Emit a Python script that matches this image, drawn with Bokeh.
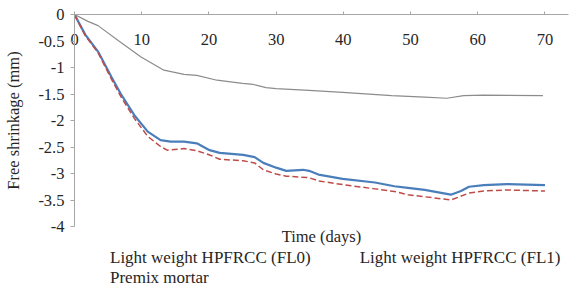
from bokeh.plotting import figure
from bokeh.layouts import column
from bokeh.models import (FixedTicker, Range1d, Legend, LegendItem, LinearAxis)
from bokeh.embed import file_html
from bokeh.resources import INLINE

# ---- data ----
days_fl0 = [0, 1.6, 3.5, 5.5, 6.9, 8.9, 10.9, 12.8, 14.3, 16.3, 18.2, 20.1, 21.6, 25.1, 26.8,
            28.1, 30.0, 31.5, 34.0, 34.9, 36.3, 39.9, 44.7, 47.6, 49.6, 52.1, 56.0, 57.5,
            58.7, 60.9, 64.3, 70.0]
fl0 = [0, -0.38, -0.70, -1.18, -1.50, -1.90, -2.21, -2.37, -2.40, -2.40, -2.43, -2.56, -2.61,
       -2.65, -2.69, -2.80, -2.89, -2.95, -2.93, -2.95, -3.02, -3.10, -3.17, -3.24, -3.27,
       -3.31, -3.40, -3.33, -3.25, -3.22, -3.20, -3.22]

days_fl1 = [0, 1.6, 3.5, 5.5, 6.9, 8.9, 10.9, 12.8, 13.8, 16.3, 18.2, 20.1, 21.6, 25.1, 26.8,
            28.1, 30.0, 31.5, 34.9, 36.3, 39.9, 44.7, 47.6, 49.6, 56.0, 58.7, 60.9, 64.3, 70.0]
fl1 = [0, -0.40, -0.72, -1.22, -1.55, -1.96, -2.30, -2.49, -2.56, -2.53, -2.57, -2.65, -2.73,
       -2.76, -2.80, -2.93, -3.01, -3.05, -3.08, -3.14, -3.21, -3.29, -3.34, -3.40, -3.50,
       -3.37, -3.33, -3.31, -3.33]

days_premix = [0, 2.0, 3.5, 6.5, 9.9, 13.3, 16.3, 18.2, 21.2, 25.0, 26.6, 28.5, 30.0, 34.9,
               39.9, 47.2, 52.1, 55.4, 57.9, 60.9, 69.7]
premix = [0, -0.13, -0.21, -0.49, -0.80, -1.05, -1.13, -1.15, -1.24, -1.30, -1.32, -1.38,
          -1.40, -1.43, -1.47, -1.53, -1.56, -1.58, -1.53, -1.52, -1.53]

x_ticks = [0, 10, 20, 30, 40, 50, 60, 70]
y_ticks = [0, -0.5, -1, -1.5, -2, -2.5, -3, -3.5, -4]
y_tick_labels = ["0", "-0.5", "-1", "-1.5", "-2", "-2.5", "-3", "-3.5", "-4"]

series_names = ["Light weight HPFRCC (FL0)", "Light weight HPFRCC (FL1)", "Premix mortar"]
series_colors = ["#4a7ebb", "#be4b48", "#8c8c8c"]
series_widths = [2.2, 1.5, 1.2]
series_dash = ["solid", "6 3", "solid"]
x_title = "Time (days)"
y_title = "Free shrinkage (mm)"

FONT = "Liberation Serif"
TXT = "#262626"
AXIS = "#a6a6a6"

p = figure(width=570, height=248, output_backend="svg", toolbar_location=None,
           x_range=Range1d(0, 73.5), y_range=Range1d(-4, 0), x_axis_location="above",
           min_border_left=68, min_border_top=14, min_border_right=2, min_border_bottom=0)
p.outline_line_color = None
p.xgrid.visible = False
p.ygrid.visible = False

# x axis along the top (y = 0), its labels pulled down under the line
xa = p.xaxis[0]
xa.ticker = FixedTicker(ticks=x_ticks)
xa.major_tick_in = 0
xa.major_tick_out = 3
xa.minor_tick_line_color = None
xa.axis_line_color = AXIS
xa.major_tick_line_color = AXIS
xa.major_label_text_font = FONT
xa.major_label_text_font_size = "16.5px"
xa.major_label_text_color = TXT
xa.major_label_standoff = -33

ya = p.yaxis[0]
ya.ticker = FixedTicker(ticks=y_ticks)
ya.major_label_overrides = {t: s for t, s in zip(y_ticks, y_tick_labels)}
ya.major_tick_in = 0
ya.major_tick_out = 4
ya.minor_tick_line_color = None
ya.axis_line_color = AXIS
ya.major_tick_line_color = AXIS
ya.major_label_text_font = FONT
ya.major_label_text_font_size = "16.5px"
ya.major_label_text_color = TXT
ya.major_label_standoff = 6
ya.axis_label = y_title
ya.axis_label_text_font = FONT
ya.axis_label_text_font_size = "16.5px"
ya.axis_label_text_font_style = "normal"
ya.axis_label_text_color = TXT
ya.axis_label_standoff = 12

# a bare axis below the frame that only carries the x title
xt = LinearAxis(ticker=FixedTicker(ticks=[]), axis_label=x_title,
                axis_line_color=None, major_tick_in=0, major_tick_out=0,
                minor_tick_in=0, minor_tick_out=0, major_label_standoff=0,
                axis_label_standoff=0, axis_label_text_font=FONT,
                axis_label_text_font_size="16.5px", axis_label_text_font_style="normal",
                axis_label_text_color=TXT)
p.add_layout(xt, "below")

p.line(days_fl0, fl0, line_color=series_colors[0], line_width=series_widths[0],
       line_dash=series_dash[0])
p.line(days_fl1, fl1, line_color=series_colors[1], line_width=series_widths[1],
       line_dash=series_dash[1])
p.line(days_premix, premix, line_color=series_colors[2], line_width=series_widths[2],
       line_dash=series_dash[2])

# legend in its own small strip below the chart
lg = figure(width=570, height=40, output_backend="svg", toolbar_location=None,
            x_range=Range1d(0, 1), y_range=Range1d(0, 1),
            x_axis_location=None, y_axis_location=None,
            min_border_left=74, min_border_right=0, min_border_top=0, min_border_bottom=0)
lg.outline_line_color = None
lg.xgrid.visible = False
lg.ygrid.visible = False
keys = [lg.line([], [], line_color=c, line_width=w, line_dash=d)
        for c, w, d in zip(series_colors, series_widths, series_dash)]

legend_style = dict(orientation="horizontal", margin=0, padding=0,
                    spacing=13, glyph_width=28, glyph_height=17, label_height=17,
                    label_standoff=8, label_text_font=FONT, label_text_font_size="17px",
                    label_text_color=TXT, border_line_color=None, background_fill_alpha=0)
legend1 = Legend(items=[LegendItem(label=series_names[0], renderers=[keys[0]]),
                        LegendItem(label=series_names[1], renderers=[keys[1]])],
                 location="top_left", **legend_style)
legend2 = Legend(items=[LegendItem(label=series_names[2], renderers=[keys[2]])],
                 location="bottom_left", **legend_style)
lg.add_layout(legend1, "center")
lg.add_layout(legend2, "center")

layout = column(p, lg, spacing=0)
open("out.html", "w").write(file_html(layout, INLINE))
